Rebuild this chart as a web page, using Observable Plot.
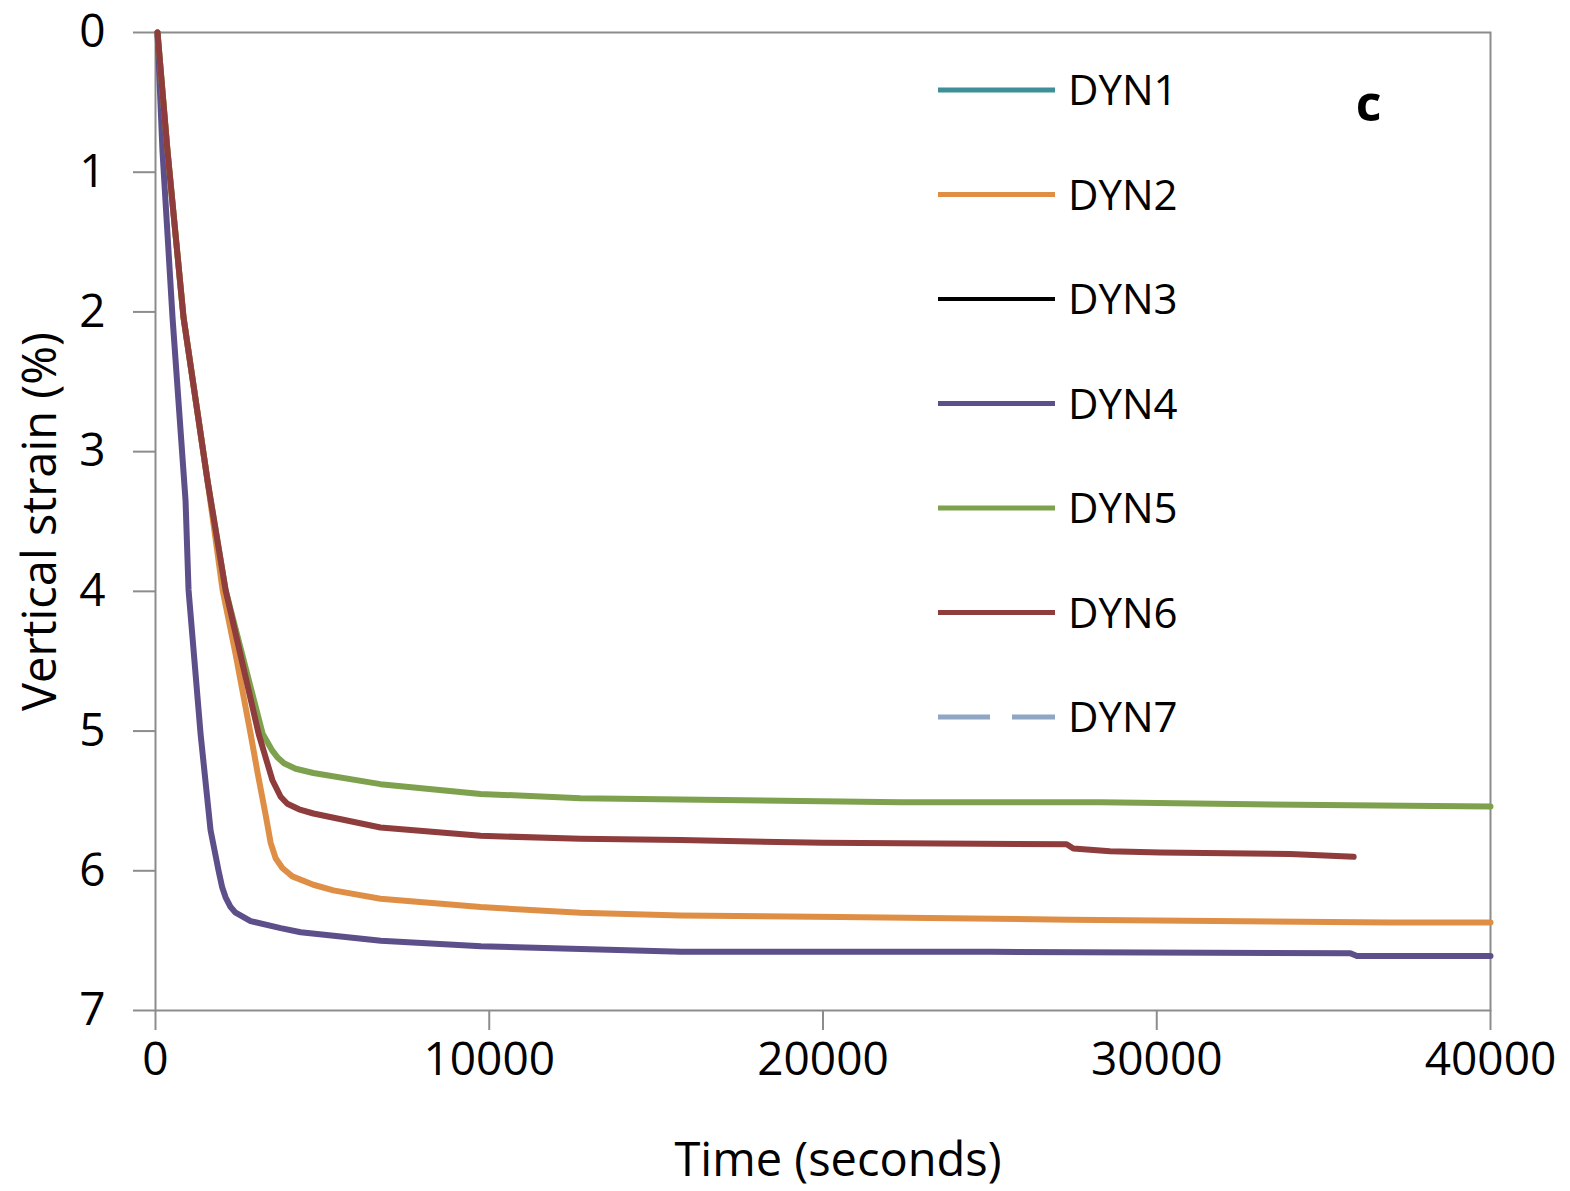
<!DOCTYPE html>
<html>
<head>
<meta charset="utf-8">
<script src="https://cdn.jsdelivr.net/npm/d3@7"></script>
<script src="https://cdn.jsdelivr.net/npm/@observablehq/plot@0.6"></script>
<style>
  body { margin: 0; background: #fff; }
  #wrap { position: relative; width: 1570px; height: 1191px; background: #fff; }
  #legend { position: absolute; left: 0; top: 0; }
</style>
</head>
<body>
<div id="wrap"></div>
<script>
// ---- data ----
const seriesNames = ["DYN1", "DYN2", "DYN3", "DYN4", "DYN5", "DYN6", "DYN7"];
const seriesColors = ["#3f8f96", "#df8f45", "#000000", "#5d4f8a", "#7ea14e", "#8f3c3c", "#8fa6c4"];

const xTicks = [0, 10000, 20000, 30000, 40000];
const yTicks = [0, 1, 2, 3, 4, 5, 6, 7];

// DYN1, DYN3, DYN7: listed in the legend only, no curve visible
const dyn1Time = [], dyn1Strain = [];
const dyn3Time = [], dyn3Strain = [];
const dyn7Time = [], dyn7Strain = [];

const dyn2Time   = [60, 360, 840, 1560, 2010, 2400, 2850, 3060, 3300, 3450, 3600, 3800, 4100, 4730, 5330, 6740, 9740, 12730, 15730, 20500, 27400, 37000, 40000];
const dyn2Strain = [0, 0.85, 2.04, 3.21, 3.99, 4.45, 5.02, 5.30, 5.60, 5.80, 5.91, 5.98, 6.04, 6.10, 6.14, 6.20, 6.26, 6.30, 6.32, 6.33, 6.35, 6.37, 6.37];

const dyn4Time   = [60, 210, 510, 900, 990, 1350, 1650, 1890, 2000, 2100, 2250, 2400, 2850, 3750, 4350, 6750, 9750, 12750, 15750, 25000, 35800, 36000, 40000];
const dyn4Strain = [0, 0.85, 2.04, 3.35, 3.99, 5.02, 5.71, 6.00, 6.12, 6.19, 6.26, 6.30, 6.36, 6.41, 6.44, 6.50, 6.54, 6.56, 6.58, 6.58, 6.59, 6.61, 6.61];

const dyn5Time   = [60, 360, 840, 1560, 2100, 3210, 3500, 3660, 3850, 4200, 4730, 6740, 9740, 12730, 15730, 22320, 28310, 35000, 40000];
const dyn5Strain = [0, 0.85, 2.04, 3.21, 3.99, 5.02, 5.14, 5.19, 5.23, 5.27, 5.30, 5.38, 5.45, 5.48, 5.49, 5.51, 5.51, 5.53, 5.54];

const dyn6Time   = [60, 360, 840, 1560, 2100, 3090, 3500, 3750, 3950, 4300, 4730, 6740, 9740, 12730, 15730, 20000, 27300, 27500, 28600, 30100, 34000, 35900];
const dyn6Strain = [0, 0.85, 2.04, 3.21, 3.99, 5.02, 5.35, 5.47, 5.52, 5.56, 5.59, 5.69, 5.75, 5.77, 5.78, 5.80, 5.81, 5.84, 5.86, 5.87, 5.88, 5.90];

const seriesTimes   = [dyn1Time, dyn2Time, dyn3Time, dyn4Time, dyn5Time, dyn6Time, dyn7Time];
const seriesStrains = [dyn1Strain, dyn2Strain, dyn3Strain, dyn4Strain, dyn5Strain, dyn6Strain, dyn7Strain];

// ---- build table ----
const rows = [];
seriesNames.forEach((name, i) => {
  seriesTimes[i].forEach((t, j) => rows.push({series: name, t, v: seriesStrains[i][j]}));
});

const font = "'Open Sans', sans-serif";

const chart = Plot.plot({
  width: 1570,
  height: 1191,
  marginLeft: 155,
  marginRight: 80,
  marginTop: 32,
  marginBottom: 181,
  style: {fontFamily: font, fontSize: "46px", color: "#000", background: "#fff", overflow: "visible"},
  x: {domain: [0, 40000]},
  y: {domain: [0, 7], reverse: true},
  color: {domain: seriesNames, range: seriesColors},
  marks: [
    Plot.frame({stroke: "#8c8c8c", strokeWidth: 2}),
    Plot.axisX({ticks: xTicks, tickFormat: d => String(d), tickSize: 20, tickPadding: 12,
      stroke: "#8c8c8c", strokeWidth: 2, fill: "#000", label: null}),
    Plot.axisY({ticks: yTicks, tickFormat: d => String(d), tickSize: 22, tickPadding: 28,
      stroke: "#8c8c8c", strokeWidth: 2, fill: "#000", label: null}),
    Plot.line(rows, {x: "t", y: "v", z: "series", stroke: "series", strokeWidth: 6,
      strokeLinejoin: "round", strokeLinecap: "round"}),
    Plot.text(["Time (seconds)"], {frameAnchor: "bottom", dx: 15, dy: 150, text: d => d,
      fontFamily: font, fontSize: 47, fill: "#000", lineAnchor: "middle", textAnchor: "middle"}),
    Plot.text(["Vertical strain (%)"], {frameAnchor: "left", dx: -115, rotate: -90, text: d => d,
      fontFamily: font, fontSize: 47, fill: "#000", lineAnchor: "middle", textAnchor: "middle"}),
    Plot.text(["c"], {frameAnchor: "top-right", dx: -122, dy: 72, text: d => d,
      fontFamily: font, fontWeight: "bold", fontSize: 50, fill: "#000", lineAnchor: "middle", textAnchor: "middle"})
  ]
});

const wrap = document.getElementById("wrap");
wrap.appendChild(chart);

// ---- legend (inside the plot area, as in the reference) ----
const legend = d3.select(wrap).append("svg")
  .attr("id", "legend").attr("width", 1570).attr("height", 1191);
const lg = legend.selectAll("g").data(seriesNames).join("g")
  .attr("transform", (d, i) => `translate(938, ${90 + i * 104.5})`);
lg.append("line")
  .attr("x1", 0).attr("x2", 117).attr("y1", 0).attr("y2", 0)
  .attr("stroke", (d, i) => seriesColors[i])
  .attr("stroke-width", (d, i) => i === 2 ? 4 : 5)
  .attr("stroke-dasharray", (d, i) => i === 6 ? "52 22" : null);
lg.append("text")
  .attr("x", 130).attr("y", 0).attr("dy", "0.36em")
  .attr("font-family", font).attr("font-size", 42).attr("fill", "#000")
  .text(d => d);
</script>
</body>
</html>
